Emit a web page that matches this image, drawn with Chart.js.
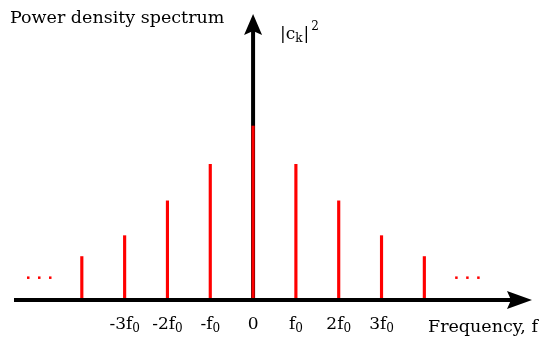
<!DOCTYPE html>
<html>
<head>
<meta charset="utf-8">
<script src="https://cdn.jsdelivr.net/npm/chart.js@4"></script>
<style>
  html, body { margin: 0; padding: 0; background: #fff; }
  #wrap { width: 539px; height: 338px; position: relative; }
</style>
</head>
<body>
<div id="wrap"><canvas id="spectrum"></canvas></div>
<script>
// harmonic index k (frequency = k * f0) and |c_k|^2 (relative)
const harmonics = [-4, -3, -2, -1, 0, 1, 2, 3, 4];
const power = [0.25, 0.37, 0.57, 0.78, 1.0, 0.78, 0.57, 0.37, 0.25];
// tick labels under the axis: [main text, subscript]
const tickValues = [-3, -2, -1, 0, 1, 2, 3];
const tickLabels = [["-3f", "0"], ["-2f", "0"], ["-f", "0"], ["0", ""], ["f", "0"], ["2f", "0"], ["3f", "0"]];
const dotsAt = [-5, 5];

const FONT = "'DejaVu Serif', 'Liberation Serif', serif";

function subText(ctx, x, y, main, sub, size, align) {
  ctx.font = size + "px " + FONT;
  const w1 = ctx.measureText(main).width;
  ctx.font = Math.round(size * 0.68) + "px " + FONT;
  const w2 = sub ? ctx.measureText(sub).width : 0;
  let left = x;
  if (align === "center") left = x - (w1 + w2) / 2;
  ctx.textAlign = "left";
  ctx.font = size + "px " + FONT;
  ctx.fillText(main, left, y);
  if (sub) {
    ctx.font = Math.round(size * 0.68) + "px " + FONT;
    ctx.fillText(sub, left + w1, y + 3);
  }
  return left + w1 + w2;
}

const axesPlugin = {
  id: "axes",
  beforeDatasetsDraw(chart) {
    const ctx = chart.ctx;
    const x0 = chart.scales.x.getPixelForValue(0);
    const y0 = chart.scales.y.getPixelForValue(0);
    ctx.save();
    ctx.fillStyle = "#000";
    ctx.strokeStyle = "#000";
    ctx.lineWidth = 4;
    ctx.beginPath();
    ctx.moveTo(x0, y0);
    ctx.lineTo(x0, 30);
    ctx.stroke();
    ctx.beginPath();
    ctx.moveTo(x0, 14);
    ctx.lineTo(x0 - 9, 35);
    ctx.lineTo(x0, 31);
    ctx.lineTo(x0 + 9, 35);
    ctx.closePath();
    ctx.fill();
    ctx.restore();
  },
  afterDatasetsDraw(chart) {
    const ctx = chart.ctx;
    const xs = chart.scales.x, ys = chart.scales.y;
    const y0 = ys.getPixelForValue(0);
    ctx.save();
    ctx.fillStyle = "#000";
    ctx.strokeStyle = "#000";
    ctx.lineWidth = 4;
    ctx.beginPath();
    ctx.moveTo(14, y0);
    ctx.lineTo(515, y0);
    ctx.stroke();
    ctx.beginPath();
    ctx.moveTo(532, y0);
    ctx.lineTo(507, y0 - 9);
    ctx.lineTo(511, y0);
    ctx.lineTo(507, y0 + 9);
    ctx.closePath();
    ctx.fill();

    // continuation dots
    ctx.fillStyle = "#ff0000";
    dotsAt.forEach(v => {
      const cx = xs.getPixelForValue(v);
      const cy = ys.getPixelForValue(0.13);
      [-11, 0, 11].forEach(d => ctx.fillRect(cx + d - 1, cy - 1, 2.5, 2.5));
    });

    // tick labels
    ctx.fillStyle = "#000";
    ctx.textBaseline = "alphabetic";
    tickValues.forEach((v, i) => {
      subText(ctx, xs.getPixelForValue(v), 329, tickLabels[i][0], tickLabels[i][1], 17, "center");
    });

    ctx.font = "17.5px " + FONT;
    ctx.textAlign = "left";
    ctx.fillText("Frequency, f", 428, 332);
    ctx.fillText("Power density spectrum", 10, 23);

    // |c_k|^2
    let x = subText(ctx, 280, 39, "|c", "k", 17, "left");
    ctx.font = "17px " + FONT;
    ctx.fillText("|", x + 1, 39);
    x += 1 + ctx.measureText("|").width;
    ctx.font = "12px " + FONT;
    ctx.fillText("2", x + 2, 30);
    ctx.restore();
  }
};

new Chart(document.getElementById("spectrum"), {
  type: "bar",
  data: {
    datasets: [{
      data: harmonics.map((h, i) => ({ x: h, y: power[i] })),
      backgroundColor: "#ff0000",
      borderWidth: 0,
      barThickness: 2.5
    }]
  },
  options: {
    responsive: true,
    maintainAspectRatio: false,
    animation: false,
    layout: { padding: 0 },
    plugins: { legend: { display: false }, tooltip: { enabled: false } },
    scales: {
      x: { type: "linear", offset: false, min: -5.911, max: 6.678, display: false },
      y: { min: -0.218, max: 1.724, display: false }
    }
  },
  plugins: [axesPlugin]
});
</script>
</body>
</html>
